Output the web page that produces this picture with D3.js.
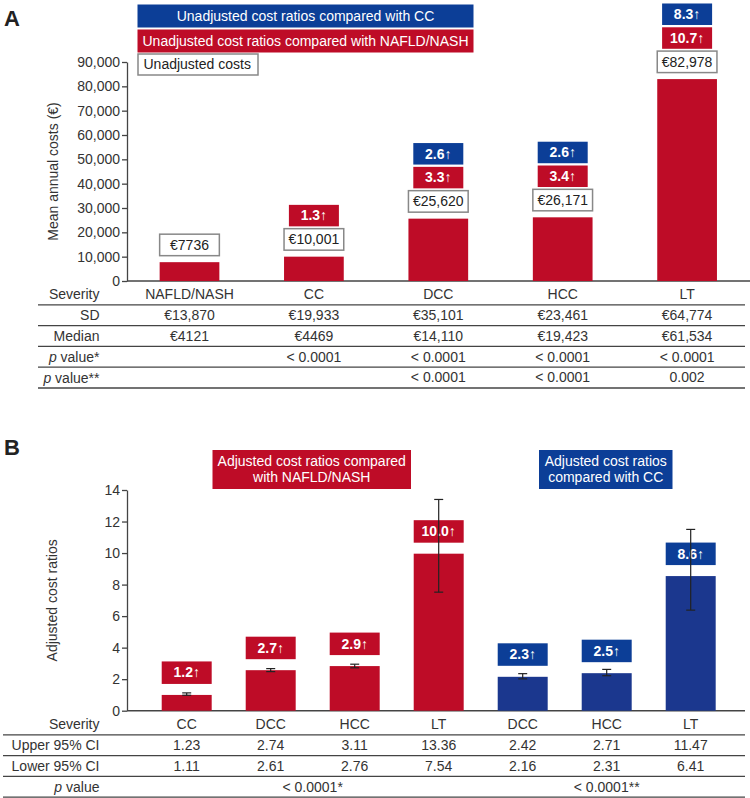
<!DOCTYPE html>
<html>
<head>
<meta charset="utf-8">
<script src="https://cdn.jsdelivr.net/npm/d3@7"></script>
<style>
  body { margin: 0; background: #fff; }
  text { font-family: "Liberation Sans", Arial, sans-serif; }
</style>
</head>
<body>
<script>
// ---- panel A data
const severityA = ["NAFLD/NASH", "CC", "DCC", "HCC", "LT"];
const costA = [7736, 10001, 25620, 26171, 82978];
const ratioVsNafldA = [null, "1.3", "3.3", "3.4", "10.7"];
const ratioVsCcA = [null, null, "2.6", "2.6", "8.3"];
const sdA = ["€13,870", "€19,933", "€35,101", "€23,461", "€64,774"];
const medianA = ["€4121", "€4469", "€14,110", "€19,423", "€61,534"];
const pStarA = ["", "< 0.0001", "< 0.0001", "< 0.0001", "< 0.0001"];
const pStar2A = ["", "", "< 0.0001", "< 0.0001", "0.002"];
const ticksA = [0, 10000, 20000, 30000, 40000, 50000, 60000, 70000, 80000, 90000];

// ---- panel B data
const severityB = ["CC", "DCC", "HCC", "LT", "DCC", "HCC", "LT"];
const refB = ["nafld", "nafld", "nafld", "nafld", "cc", "cc", "cc"];
const ratioB = [1.0, 2.57, 2.83, 9.96, 2.15, 2.38, 8.54];
const ratioLabelB = ["1.2", "2.7", "2.9", "10.0", "2.3", "2.5", "8.6"];
const errLowB = [0.98, 2.48, 2.72, 7.52, 2.02, 2.22, 6.38];
const errHighB = [1.13, 2.67, 2.95, 13.4, 2.35, 2.62, 11.5];
const upperCI = ["1.23", "2.74", "3.11", "13.36", "2.42", "2.71", "11.47"];
const lowerCI = ["1.11", "2.61", "2.76", "7.54", "2.16", "2.31", "6.41"];
const ticksB = [0, 2, 4, 6, 8, 10, 12, 14];

const red = "#be0c27";
const blue = "#0c3e97";
const blueBar = "#1b378e";
const ink = "#333";

const svg = d3.select("body").append("svg")
  .attr("width", 750).attr("height", 798);

function box(g, x, y, w, h, fill, stroke, txt, txtColor, bold) {
  g.append("rect").attr("x", x).attr("y", y).attr("width", w).attr("height", h)
    .attr("fill", fill).attr("stroke", stroke || "none").attr("stroke-width", stroke ? 1.5 : 0);
  g.append("text").attr("x", x + w / 2).attr("y", y + h / 2 + 1)
    .attr("text-anchor", "middle").attr("dominant-baseline", "middle")
    .attr("font-size", 14).attr("font-weight", bold ? "bold" : "normal")
    .attr("fill", txtColor).text(txt);
}

const euro = v => "€" + (v >= 10000 ? d3.format(",")(v) : v);

// ================= PANEL A =================
const gA = svg.append("g");
gA.append("text").attr("x", 4).attr("y", 26).attr("font-size", 22)
  .attr("font-weight", "bold").attr("fill", "#222").text("A");

const xA = d3.scaleBand().domain(d3.range(severityA.length))
  .range([127.3, 749.3]).paddingInner(0.52).paddingOuter(0.26);
const yA = d3.scaleLinear().domain([0, 90000]).range([281, 62]);

const axA = gA.append("g").attr("transform", "translate(127,0)")
  .call(d3.axisLeft(yA).tickValues(ticksA).tickFormat(d3.format(",")).tickSize(5).tickSizeOuter(0));
axA.selectAll("text").attr("font-size", 14).attr("fill", ink).attr("x", -7);
axA.selectAll("line, path").attr("stroke", "#444").attr("stroke-width", 1.3);

gA.append("line").attr("x1", 127).attr("x2", 750).attr("y1", yA(0)).attr("y2", yA(0))
  .attr("stroke", "#444").attr("stroke-width", 1.5);

gA.append("text").attr("transform", "translate(54," + ((yA(0) + yA(90000)) / 2) + ") rotate(-90)")
  .attr("text-anchor", "middle").attr("dominant-baseline", "middle")
  .attr("font-size", 14).attr("fill", ink).text("Mean annual costs (€)");

gA.selectAll("rect.bar").data(costA).enter().append("rect").attr("class", "bar")
  .attr("x", (d, i) => xA(i)).attr("width", xA.bandwidth())
  .attr("y", d => yA(d)).attr("height", d => yA(0) - yA(d)).attr("fill", red);

const bh = 21.5, gap = 2.3;
costA.forEach((v, i) => {
  const cx = xA(i) + xA.bandwidth() / 2;
  const w = xA.bandwidth();
  let top = yA(v) - 6.5 - bh;
  box(gA, cx - w / 2, top, w, bh, "#fff", "#888", euro(v), "#222", false);
  if (ratioVsNafldA[i]) {
    top = top - gap - bh;
    box(gA, cx - 25, top, 50, bh, red, null, ratioVsNafldA[i] + "↑", "#fff", true);
  }
  if (ratioVsCcA[i]) {
    top = top - gap - bh;
    box(gA, cx - 25, top, 50, bh, blue, null, ratioVsCcA[i] + "↑", "#fff", true);
  }
});

// legend A
box(gA, 137.5, 4.5, 336, 23, blue, null, "Unadjusted cost ratios compared with CC", "#fff", false);
box(gA, 137.5, 29.5, 336, 23, red, null, "Unadjusted cost ratios compared with NAFLD/NASH", "#fff", false);
gA.append("rect").attr("x", 138).attr("y", 54).attr("width", 120).attr("height", 21)
  .attr("fill", "#fff").attr("stroke", "#888").attr("stroke-width", 1.5);
gA.append("text").attr("x", 143.5).attr("y", 65.5).attr("dominant-baseline", "middle")
  .attr("font-size", 14).attr("fill", "#222").text("Unadjusted costs");

// table A
const rowsA = [
  { label: "Severity", vals: severityA },
  { label: "SD", vals: sdA },
  { label: "Median", vals: medianA },
  { label: "value*", italic: true, vals: pStarA },
  { label: "value**", italic: true, vals: pStar2A }
];
const rowTopA = 284, rowHA = 20.8;
rowsA.forEach((r, k) => {
  const cy = rowTopA + k * rowHA + rowHA / 2 + 1;
  const lab = gA.append("text").attr("x", 99.5).attr("y", cy).attr("text-anchor", "end")
    .attr("dominant-baseline", "middle").attr("font-size", 14).attr("fill", ink);
  if (r.italic) {
    lab.append("tspan").attr("font-style", "italic").text("p");
    lab.append("tspan").text(" " + r.label);
  } else lab.text(r.label);
  r.vals.forEach((v, i) => {
    gA.append("text").attr("x", xA(i) + xA.bandwidth() / 2).attr("y", cy)
      .attr("text-anchor", "middle").attr("dominant-baseline", "middle")
      .attr("font-size", 14).attr("fill", ink).text(v);
  });
  gA.append("line").attr("x1", 38).attr("x2", 745)
    .attr("y1", rowTopA + (k + 1) * rowHA).attr("y2", rowTopA + (k + 1) * rowHA)
    .attr("stroke", "#444").attr("stroke-width", 1.3);
});

// ================= PANEL B =================
const gB = svg.append("g");
gB.append("text").attr("x", 4).attr("y", 455).attr("font-size", 22)
  .attr("font-weight", "bold").attr("fill", "#222").text("B");

const xB = d3.scaleBand().domain(d3.range(severityB.length))
  .range([144.7, 732.7]).paddingInner(0.405).paddingOuter(0.2025);
const yB = d3.scaleLinear().domain([0, 14]).range([710.7, 490]);

const axB = gB.append("g").attr("transform", "translate(127,0)")
  .call(d3.axisLeft(yB).tickValues(ticksB).tickSize(5).tickSizeOuter(0));
axB.selectAll("text").attr("font-size", 14).attr("fill", ink).attr("x", -7);
axB.selectAll("line, path").attr("stroke", "#444").attr("stroke-width", 1.3);

gB.append("line").attr("x1", 127).attr("x2", 745).attr("y1", yB(0)).attr("y2", yB(0))
  .attr("stroke", "#444").attr("stroke-width", 1.5);

gB.append("text").attr("transform", "translate(53," + ((yB(0) + yB(14)) / 2) + ") rotate(-90)")
  .attr("text-anchor", "middle").attr("dominant-baseline", "middle")
  .attr("font-size", 14).attr("fill", ink).text("Adjusted cost ratios");

gB.selectAll("rect.bar").data(ratioB).enter().append("rect").attr("class", "bar")
  .attr("x", (d, i) => xB(i)).attr("width", xB.bandwidth())
  .attr("y", d => yB(d)).attr("height", d => yB(0) - yB(d))
  .attr("fill", (d, i) => refB[i] === "nafld" ? red : blueBar);

ratioB.forEach((v, i) => {
  const top = yB(v) - 11 - 22.5;
  box(gB, xB(i), top, xB.bandwidth(), 22.5, refB[i] === "nafld" ? red : blue, null,
    ratioLabelB[i] + "↑", "#fff", true);
});

// error bars
ratioB.forEach((v, i) => {
  const cx = xB(i) + xB.bandwidth() / 2;
  const eg = gB.append("g").attr("stroke", "#222").attr("stroke-width", 1.2);
  eg.append("line").attr("x1", cx).attr("x2", cx).attr("y1", yB(errLowB[i])).attr("y2", yB(errHighB[i]));
  [errLowB[i], errHighB[i]].forEach(e => {
    eg.append("line").attr("x1", cx - 4.5).attr("x2", cx + 4.5).attr("y1", yB(e)).attr("y2", yB(e));
  });
});

// legend B
function legendB(x, w, fill, lines) {
  gB.append("rect").attr("x", x).attr("y", 450).attr("width", w).attr("height", 39)
    .attr("fill", fill);
  lines.forEach((t, k) => {
    gB.append("text").attr("x", x + w / 2).attr("y", 462.5 + k * 16)
      .attr("text-anchor", "middle").attr("dominant-baseline", "middle")
      .attr("font-size", 14).attr("fill", "#fff").text(t);
  });
}
legendB(212.5, 198.5, red, ["Adjusted cost ratios compared", "with NAFLD/NASH"]);
legendB(539, 133.5, blue, ["Adjusted cost ratios", "compared with CC"]);

// table B
const rowsB = [
  { label: "Severity", vals: severityB },
  { label: "Upper 95% CI", vals: upperCI },
  { label: "Lower 95% CI", vals: lowerCI }
];
const rowTopB = 714, rowHB = 20.8;
rowsB.forEach((r, k) => {
  const cy = rowTopB + k * rowHB + rowHB / 2 + 1;
  gB.append("text").attr("x", 99.5).attr("y", cy).attr("text-anchor", "end")
    .attr("dominant-baseline", "middle").attr("font-size", 14).attr("fill", ink).text(r.label);
  r.vals.forEach((v, i) => {
    gB.append("text").attr("x", xB(i) + xB.bandwidth() / 2).attr("y", cy)
      .attr("text-anchor", "middle").attr("dominant-baseline", "middle")
      .attr("font-size", 14).attr("fill", ink).text(v);
  });
});
const pyB = rowTopB + 3 * rowHB + rowHB / 2 + 1;
const pl = gB.append("text").attr("x", 99.5).attr("y", pyB).attr("text-anchor", "end")
  .attr("dominant-baseline", "middle").attr("font-size", 14).attr("fill", ink);
pl.append("tspan").attr("font-style", "italic").text("p");
pl.append("tspan").text(" value");
const midRed = (xB(0) + xB(3) + xB.bandwidth()) / 2;
const midBlue = (xB(4) + xB(6) + xB.bandwidth()) / 2;
gB.append("text").attr("x", midRed).attr("y", pyB).attr("text-anchor", "middle")
  .attr("dominant-baseline", "middle").attr("font-size", 14).attr("fill", ink).text("< 0.0001*");
gB.append("text").attr("x", midBlue).attr("y", pyB).attr("text-anchor", "middle")
  .attr("dominant-baseline", "middle").attr("font-size", 14).attr("fill", ink).text("< 0.0001**");
[1, 2, 3, 4].forEach(k => {
  gB.append("line").attr("x1", 3).attr("x2", 745)
    .attr("y1", rowTopB + k * rowHB).attr("y2", rowTopB + k * rowHB)
    .attr("stroke", "#444").attr("stroke-width", 1.3);
});
</script>
</body>
</html>
